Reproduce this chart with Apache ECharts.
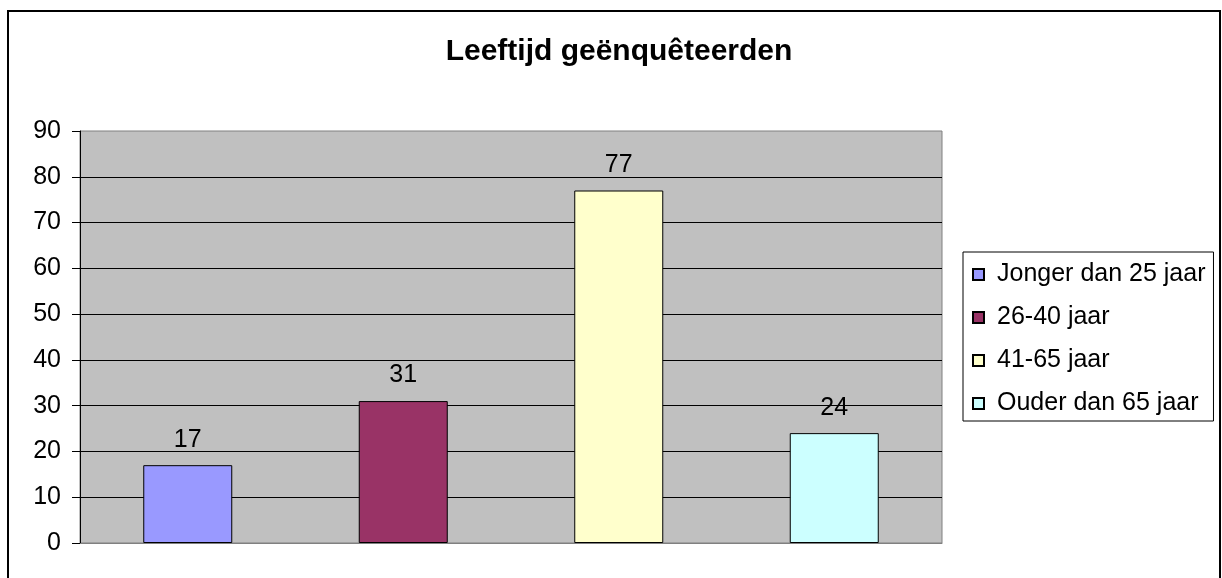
<!DOCTYPE html>
<html>
<head>
<meta charset="utf-8">
<script src="https://cdn.jsdelivr.net/npm/echarts@6/dist/echarts.min.js"></script>
<style>
  html, body { margin: 0; padding: 0; background: #fff; }
  #chart { width: 1222px; height: 578px; }
</style>
</head>
<body>
<div id="chart"></div>
<script>
// data
var categories = ['Jonger dan 25 jaar', '26-40 jaar', '41-65 jaar', 'Ouder dan 65 jaar'];
var values = [17, 31, 77, 24];
var barColors = ['#9999FF', '#993366', '#FFFFCC', '#CCFFFF'];
var yTicks = [0, 10, 20, 30, 40, 50, 60, 70, 80, 90];

var font = 'Liberation Sans, Arial, sans-serif';

// one series per age group, each bar sits in its own slot
var series = categories.map(function (name, i) {
    var data = values.map(function (v, j) { return j === i ? v : null; });
    return {
        name: name,
        type: 'bar',
        data: data,
        barWidth: 89,
        barGap: '-100%',
        itemStyle: { color: barColors[i], borderColor: '#000', borderWidth: 1 },
        label: {
            show: true,
            position: 'top',
            distance: 13,
            color: '#000',
            fontSize: 25,
            fontFamily: font
        }
    };
});

var myChart = echarts.init(document.getElementById('chart'));
var option = {
    animation: false,
    backgroundColor: '#fff',
    title: {
        text: 'Leeftijd geënquêteerden',
        left: 614,
        textAlign: 'center',
        top: 32,
        textStyle: { fontSize: 30, fontWeight: 'bold', color: '#000', fontFamily: font }
    },
    graphic: [{
        type: 'rect',
        shape: { x: 8, y: 11, width: 1212, height: 620 },
        style: { fill: 'none', stroke: '#000', lineWidth: 2 },
        silent: true
    }],
    legend: {
        orient: 'vertical',
        left: 963,
        top: 252,
        padding: [10, 8, 5, 9],
        itemGap: 18,
        itemWidth: 11,
        itemHeight: 11,
        icon: 'rect',
        borderColor: '#000',
        borderWidth: 1,
        backgroundColor: '#fff',
        textStyle: { fontSize: 25, color: '#000', fontFamily: font, lineHeight: 25, padding: [0, 0, 0, 8] },
        data: categories
    },
    grid: {
        left: 80,
        top: 131,
        width: 862,
        height: 412,
        show: true,
        backgroundColor: '#C0C0C0',
        borderColor: '#808080',
        borderWidth: 1
    },
    xAxis: {
        type: 'category',
        data: categories,
        axisLine: { show: true, lineStyle: { color: '#808080', width: 1 } },
        axisTick: { show: false },
        axisLabel: { show: false }
    },
    yAxis: {
        type: 'value',
        min: yTicks[0],
        max: yTicks[yTicks.length - 1],
        interval: 10,
        axisLine: { show: true, lineStyle: { color: '#000', width: 1 } },
        axisTick: { show: true, length: 8, lineStyle: { color: '#000' } },
        axisLabel: { color: '#000', fontSize: 25, fontFamily: font, margin: 19 },
        splitLine: { show: true, showMinLine: false, showMaxLine: false, lineStyle: { color: '#000', width: 1 } }
    },
    series: series
};

if (option && typeof option === "object") {
    myChart.setOption(option, true);
}
</script>
</body>
</html>
